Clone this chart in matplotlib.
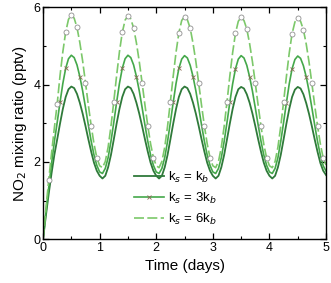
import numpy as np
import matplotlib
matplotlib.use("Agg")
import matplotlib.pyplot as plt
from matplotlib.ticker import MultipleLocator
from matplotlib.lines import Line2D

plt.rcParams['font.family'] = ['Liberation Sans', 'DejaVu Sans']

# time axis (days), 0.05-day steps
time = [round(0.05 * i, 2) for i in range(101)]

# ks = kb
s1_day0 = [0.00, 0.60, 1.17, 1.70, 2.18, 2.58, 2.99, 3.37, 3.68, 3.88, 3.95, 3.91, 3.76, 3.53, 3.25, 2.93, 2.59, 2.27, 1.98, 1.77]
s1_day1 = [1.64, 1.57, 1.64, 1.86, 2.18, 2.58, 2.99, 3.37, 3.68, 3.88, 3.95, 3.91, 3.76, 3.53, 3.25, 2.93, 2.59, 2.27, 1.98, 1.77]
s1_day2 = [1.64, 1.57, 1.64, 1.86, 2.18, 2.58, 2.99, 3.37, 3.68, 3.88, 3.95, 3.91, 3.76, 3.53, 3.25, 2.93, 2.59, 2.27, 1.98, 1.77]
s1_day3 = [1.64, 1.57, 1.64, 1.86, 2.18, 2.58, 2.99, 3.37, 3.68, 3.88, 3.94, 3.90, 3.75, 3.53, 3.25, 2.93, 2.59, 2.27, 1.98, 1.77]
s1_day4 = [1.64, 1.57, 1.64, 1.86, 2.18, 2.58, 2.99, 3.37, 3.68, 3.87, 3.94, 3.90, 3.75, 3.52, 3.24, 2.92, 2.58, 2.26, 1.97, 1.77]
s1_end = [1.66]

# ks = 3kb
s2_day0 = [0.00, 0.68, 1.33, 1.95, 2.52, 3.02, 3.54, 4.03, 4.42, 4.67, 4.76, 4.70, 4.51, 4.21, 3.84, 3.41, 2.96, 2.54, 2.18, 1.91]
s2_day1 = [1.74, 1.70, 1.83, 2.11, 2.53, 3.02, 3.54, 4.03, 4.42, 4.67, 4.76, 4.70, 4.51, 4.21, 3.84, 3.41, 2.96, 2.54, 2.18, 1.91]
s2_day2 = [1.74, 1.70, 1.83, 2.11, 2.53, 3.02, 3.54, 4.03, 4.42, 4.66, 4.75, 4.69, 4.50, 4.21, 3.84, 3.41, 2.96, 2.54, 2.18, 1.91]
s2_day3 = [1.74, 1.70, 1.83, 2.11, 2.53, 3.02, 3.54, 4.02, 4.41, 4.66, 4.75, 4.69, 4.50, 4.20, 3.83, 3.40, 2.96, 2.54, 2.18, 1.91]
s2_day4 = [1.74, 1.70, 1.83, 2.11, 2.53, 3.02, 3.53, 4.02, 4.41, 4.65, 4.74, 4.68, 4.49, 4.20, 3.83, 3.40, 2.95, 2.53, 2.17, 1.90]
s2_end = [1.76]

# ks = 6kb
s3_day0 = [0.00, 0.78, 1.52, 2.22, 2.88, 3.50, 4.23, 4.85, 5.36, 5.69, 5.80, 5.72, 5.48, 5.09, 4.61, 4.05, 3.48, 2.94, 2.47, 2.11]
s3_day1 = [1.90, 1.85, 2.01, 2.38, 2.92, 3.56, 4.23, 4.85, 5.35, 5.67, 5.78, 5.70, 5.47, 5.08, 4.60, 4.05, 3.48, 2.94, 2.47, 2.11]
s3_day2 = [1.90, 1.85, 2.01, 2.38, 2.92, 3.56, 4.22, 4.84, 5.34, 5.66, 5.76, 5.68, 5.46, 5.07, 4.60, 4.04, 3.47, 2.94, 2.47, 2.11]
s3_day3 = [1.90, 1.85, 2.01, 2.38, 2.92, 3.55, 4.22, 4.83, 5.33, 5.64, 5.74, 5.66, 5.44, 5.06, 4.59, 4.04, 3.47, 2.93, 2.46, 2.10]
s3_day4 = [1.90, 1.85, 2.01, 2.38, 2.92, 3.55, 4.21, 4.82, 5.32, 5.62, 5.72, 5.64, 5.42, 5.05, 4.58, 4.03, 3.46, 2.93, 2.46, 2.10]
s3_end = [1.92]

s1 = s1_day0 + s1_day1 + s1_day2 + s1_day3 + s1_day4 + s1_end
s2 = s2_day0 + s2_day1 + s2_day2 + s2_day3 + s2_day4 + s2_end
s3 = s3_day0 + s3_day1 + s3_day2 + s3_day3 + s3_day4 + s3_end

labels = ["k$_s$ = k$_b$", "k$_s$ = 3k$_b$", "k$_s$ = 6k$_b$"]

fig = plt.figure(figsize=(3.31, 2.83), dpi=100)
ax = fig.add_axes([0.130, 0.155, 0.855, 0.819])

c1 = '#2f7a3a'
c2 = '#44a84a'
c3 = '#7cc86a'

# marker positions
circ_idx = [2] + [d * 20 + k for d in range(5) for k in (5, 8, 10, 12, 15, 17, 19) if d * 20 + k <= 100]
x_idx = [d * 20 + k for d in range(5) for k in (6, 8, 13) if d * 20 + k <= 100]

ax.plot(time, s1, color=c1, lw=1.3)
ax.plot(time, s2, color=c2, lw=1.2, marker='x', markersize=2.5, markeredgewidth=0.6,
        markeredgecolor='#8a6a55', markevery=x_idx)
ax.plot(time, s3, color=c3, lw=1.2, dashes=(6, 2), marker='o', markersize=3.6,
        markerfacecolor='white', markeredgecolor='#909090', markeredgewidth=0.6,
        markevery=circ_idx)

ax.set_xlim(0, 5)
ax.set_ylim(0, 6)
ax.xaxis.set_major_locator(MultipleLocator(1))
ax.xaxis.set_minor_locator(MultipleLocator(0.5))
ax.yaxis.set_major_locator(MultipleLocator(2))
ax.yaxis.set_minor_locator(MultipleLocator(1))
ax.tick_params(which='both', direction='in', top=True, right=True, labelsize=9, pad=2)
ax.tick_params(which='major', length=4, width=0.9)
ax.tick_params(which='minor', length=2.5, width=0.8)
for sp in ax.spines.values():
    sp.set_linewidth(1.0)

ax.set_xlabel("Time (days)", fontsize=11, labelpad=4)
ax.set_ylabel("NO$_2$ mixing ratio (pptv)", fontsize=11, labelpad=3)

handles = [
    Line2D([], [], color=c1, lw=1.3),
    Line2D([], [], color=c2, lw=1.2, marker='x', markersize=2.5, markeredgewidth=0.6,
           markeredgecolor='#8a6a55'),
    Line2D([], [], color=c3, lw=1.2, dashes=(6, 2)),
]
leg = ax.legend(handles, labels, loc='upper left', bbox_to_anchor=(0.32, 0.30), frameon=False,
                fontsize=9.5, handlelength=2.3, handletextpad=0.3, labelspacing=0.45,
                borderpad=0, borderaxespad=0)

fig.savefig("out.png", dpi=100)
